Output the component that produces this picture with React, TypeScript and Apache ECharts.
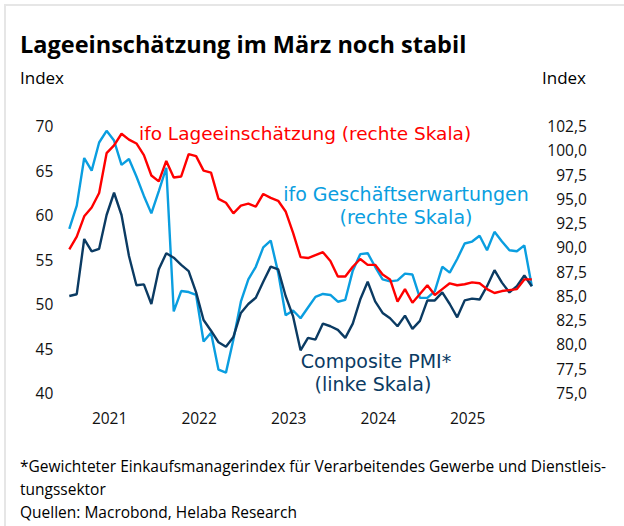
import React, { useEffect, useRef } from "react";
import * as echarts from "echarts";

const months = [
  "2021-01","2021-02","2021-03","2021-04","2021-05","2021-06","2021-07","2021-08","2021-09","2021-10","2021-11","2021-12",
  "2022-01","2022-02","2022-03","2022-04","2022-05","2022-06","2022-07","2022-08","2022-09","2022-10","2022-11","2022-12",
  "2023-01","2023-02","2023-03","2023-04","2023-05","2023-06","2023-07","2023-08","2023-09","2023-10","2023-11","2023-12",
  "2024-01","2024-02","2024-03","2024-04","2024-05","2024-06","2024-07","2024-08","2024-09","2024-10","2024-11","2024-12",
  "2025-01","2025-02","2025-03","2025-04","2025-05","2025-06","2025-07","2025-08","2025-09","2025-10","2025-11","2025-12",
  "2026-01","2026-02","2026-03",
];

// ifo Lageeinschätzung (right scale)
const ifoLage = [
  89.8, 91.1, 93.2, 94.1, 95.6, 99.7, 100.5, 101.7, 101.1, 100.7, 99.5, 97.4,
  96.8, 98.9, 97.2, 97.3, 99.6, 99.4, 97.9, 97.7, 95.0, 94.6, 93.5, 94.3,
  94.5, 94.2, 95.5, 95.1, 94.8, 93.7, 91.5, 89.0, 88.9, 89.2, 89.5, 88.6,
  87.0, 87.0, 88.0, 88.8, 88.2, 88.2, 87.2, 86.7, 84.4, 85.7, 84.3, 85.2,
  86.1, 85.1, 85.7, 86.3, 86.1, 86.2, 86.4, 86.3, 85.7, 85.3, 85.5, 85.6,
  85.7, 86.7, 86.7,
];

// ifo Geschäftserwartungen (right scale)
const ifoErwartungen = [
  91.9, 94.3, 99.2, 97.9, 100.8, 102.0, 101.0, 98.5, 99.1, 97.3, 95.3, 93.5,
  95.8, 98.2, 83.4, 85.5, 85.4, 85.1, 80.3, 81.2, 77.4, 77.1, 80.5, 84.4,
  86.7, 88.0, 90.0, 90.7, 87.4, 83.0, 83.5, 82.7, 83.8, 84.9, 85.2, 85.1,
  84.4, 84.6, 87.6, 89.3, 89.4, 88.0, 86.7, 86.5, 86.6, 87.3, 87.2, 84.8,
  84.8, 85.5, 88.0, 87.4, 88.8, 90.4, 90.6, 91.2, 89.7, 91.6, 90.6, 89.7,
  89.6, 90.2, 86.0,
];

// Composite PMI (left scale)
const compositePMI = [
  50.9, 51.1, 57.3, 55.9, 56.2, 60.0, 62.5, 60.0, 55.4, 52.1, 52.2, 50.0,
  53.9, 55.7, 55.2, 54.4, 53.7, 51.3, 48.2, 47.0, 45.7, 45.2, 46.3, 49.0,
  50.0, 50.7, 52.5, 54.2, 53.9, 50.9, 48.6, 44.8, 46.2, 46.0, 47.8, 47.5,
  47.1, 46.2, 47.8, 50.5, 52.5, 50.3, 49.0, 48.4, 47.5, 48.7, 47.2, 48.1,
  50.4, 50.4, 51.3, 50.0, 48.5, 50.4, 50.6, 50.5, 52.0, 53.8, 52.4, 51.3,
  52.0, 53.2, 52.0,
];

const leftAxis = { min: 40, max: 70, interval: 5 };
const rightAxis = { min: 75, max: 102.5, interval: 2.5 };

const FONT = "'Open Sans', sans-serif";
const LABEL_FONT = "'DejaVu Sans', sans-serif";
const RED = "#ff0000";
const CYAN = "#0a9ee0";
const NAVY = "#0b3b63";

export default function App() {
  const ref = useRef<HTMLDivElement>(null);
  useEffect(() => {
    if (!ref.current) return;
    const chart = echarts.init(ref.current, undefined, { renderer: "svg" });
    chart.setOption({
      animation: false,
      backgroundColor: "#ffffff",
      textStyle: { fontFamily: FONT },
      grid: { left: 69.3, right: 92.2, top: 126, bottom: 133, containLabel: false },
      xAxis: {
        type: "category",
        data: months,
        boundaryGap: false,
        axisLine: { show: false },
        axisTick: { show: false },
        splitLine: { show: false },
        axisLabel: {
          interval: (_i: number, v: string) => v.endsWith("-06"),
          formatter: (v: string) => v.slice(0, 4),
          color: "#111",
          fontSize: 15.5,
          fontFamily: FONT,
          margin: 17,
          padding: [0, 0, 0, 6],
        },
      },
      yAxis: [
        {
          type: "value",
          position: "left",
          min: leftAxis.min,
          max: leftAxis.max,
          interval: leftAxis.interval,
          axisLine: { show: false },
          axisTick: { show: false },
          splitLine: { show: false },
          axisLabel: { color: "#111", fontSize: 15.5, fontFamily: FONT, margin: 16 },
        },
        {
          type: "value",
          position: "right",
          min: rightAxis.min,
          max: rightAxis.max,
          interval: rightAxis.interval,
          axisLine: { show: false },
          axisTick: { show: false },
          splitLine: { show: false },
          axisLabel: {
            color: "#111",
            fontSize: 15.5,
            fontFamily: FONT,
            align: "right",
            margin: 55,
            formatter: (v: number) => v.toFixed(1).replace(".", ","),
          },
        },
      ],
      series: [
        {
          name: "ifo Geschäftserwartungen",
          type: "line",
          yAxisIndex: 1,
          data: ifoErwartungen,
          showSymbol: false,
          lineStyle: { color: CYAN, width: 2.4 },
          itemStyle: { color: CYAN },
        },
        {
          name: "Composite PMI",
          type: "line",
          yAxisIndex: 0,
          data: compositePMI,
          showSymbol: false,
          lineStyle: { color: NAVY, width: 2.4 },
          itemStyle: { color: NAVY },
        },
        {
          name: "ifo Lageeinschätzung",
          type: "line",
          yAxisIndex: 1,
          data: ifoLage,
          showSymbol: false,
          lineStyle: { color: RED, width: 2.4 },
          itemStyle: { color: RED },
        },
      ],
      graphic: [
        { type: "rect", shape: { x: 4, y: 4, width: 640, height: 2 }, style: { fill: "#e6e6e6" } },
        { type: "rect", shape: { x: 4, y: 4, width: 2, height: 540 }, style: { fill: "#e6e6e6" } },
        {
          type: "text", x: 20, y: 44,
          style: { text: "Lageeinschätzung im März noch stabil", font: `bold 23.5px ${FONT}`, fill: "#000", verticalAlign: "middle" },
        },
        { type: "text", x: 20, y: 77, style: { text: "Index", font: `17px ${FONT}`, fill: "#000", verticalAlign: "middle" } },
        { type: "text", x: 586, y: 77, style: { text: "Index", font: `17px ${FONT}`, fill: "#000", align: "right", verticalAlign: "middle" } },
        {
          type: "text", x: 139, y: 133,
          style: { text: "ifo Lageeinschätzung (rechte Skala)", font: `18.5px ${LABEL_FONT}`, fill: RED, verticalAlign: "middle" },
        },
        {
          type: "text", x: 406, y: 194,
          style: { text: "ifo Geschäftserwartungen", font: `19px ${LABEL_FONT}`, fill: CYAN, align: "center", verticalAlign: "middle" },
        },
        {
          type: "text", x: 406, y: 217,
          style: { text: "(rechte Skala)", font: `19px ${LABEL_FONT}`, fill: CYAN, align: "center", verticalAlign: "middle" },
        },
        {
          type: "text", x: 376, y: 361,
          style: { text: "Composite PMI*", font: `19px ${LABEL_FONT}`, fill: NAVY, align: "center", verticalAlign: "middle" },
        },
        {
          type: "text", x: 373, y: 384,
          style: { text: "(linke Skala)", font: `19px ${LABEL_FONT}`, fill: NAVY, align: "center", verticalAlign: "middle" },
        },
        {
          type: "text", x: 20, y: 466,
          style: { text: "*Gewichteter Einkaufsmanagerindex für Verarbeitendes Gewerbe und Dienstleis-", font: `15.5px ${FONT}`, fill: "#000", verticalAlign: "middle" },
        },
        { type: "text", x: 20, y: 489, style: { text: "tungssektor", font: `15.5px ${FONT}`, fill: "#000", verticalAlign: "middle" } },
        { type: "text", x: 20, y: 512, style: { text: "Quellen: Macrobond, Helaba Research", font: `15.5px ${FONT}`, fill: "#000", verticalAlign: "middle" } },
      ],
    });
    return () => chart.dispose();
  }, []);
  return (
    <div
      ref={ref}
      style={{ position: "fixed", left: 0, top: 0, width: 624, height: 526, background: "#fff" }}
    />
  );
}
